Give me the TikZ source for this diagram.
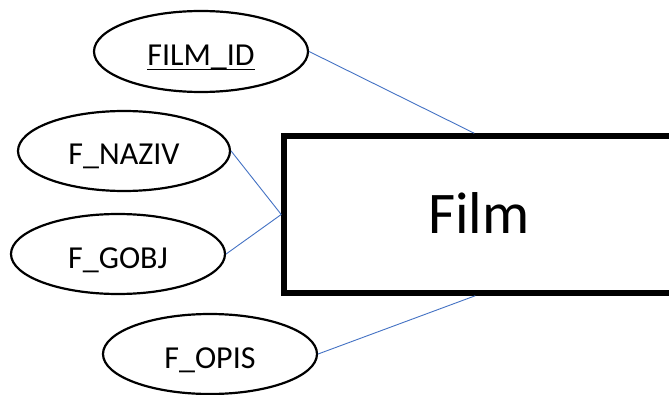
\documentclass[tikz,border=0pt]{standalone}
\usepackage{fontspec}
\setmainfont{Carlito}
\usetikzlibrary{shapes.geometric}
\definecolor{linkblue}{HTML}{4472C4}
% underline drawn as a rule just below the baseline, so the underscore merges into it
\newcommand\keyline[1]{\setbox0\hbox{#1}\rlap{\rule[-5pt]{\wd0}{1.5pt}}\box0}
\tikzset{
  attr/.style={ellipse, draw=black, line width=2.2pt, inner sep=0pt,
    minimum width=214pt, minimum height=80pt,
    font=\fontsize{32}{38}\selectfont, text height=28pt, text depth=0pt},
  entity/.style={rectangle, draw=black, line width=5.5pt, inner sep=0pt,
    minimum width=390pt, minimum height=157pt,
    font=\fontsize{59}{70}\selectfont, text height=38pt, text depth=0pt},
  link/.style={draw=linkblue, line width=0.9pt}
}
\begin{document}
\begin{tikzpicture}[x=1pt,y=1pt]
  \useasboundingbox (0,0) rectangle (669,394);
  \clip (0,0) rectangle (669,394);
  \fill[white] (0,0) rectangle (669,394);

  \node[entity] (film) at (479,179.5) {Film};

  \node[attr, minimum height=81pt] (filmid) at (201,342.5) {\keyline{FILM\_ID}};
  \node[attr, minimum width=212pt] (naziv) at (124,243) {F\_NAZIV};
  \node[attr] (gobj) at (118,140) {F\_GOBJ};
  \node[attr] (opis) at (210,40) {F\_OPIS};

  \draw[link] (filmid.east) -- ([xshift=193pt]film.north west);
  \draw[link] (naziv.east) -- (film.west);
  \draw[link] (gobj.east) -- (film.west);
  \draw[link] (opis.east) -- ([xshift=194pt]film.south west);
\end{tikzpicture}
\end{document}
